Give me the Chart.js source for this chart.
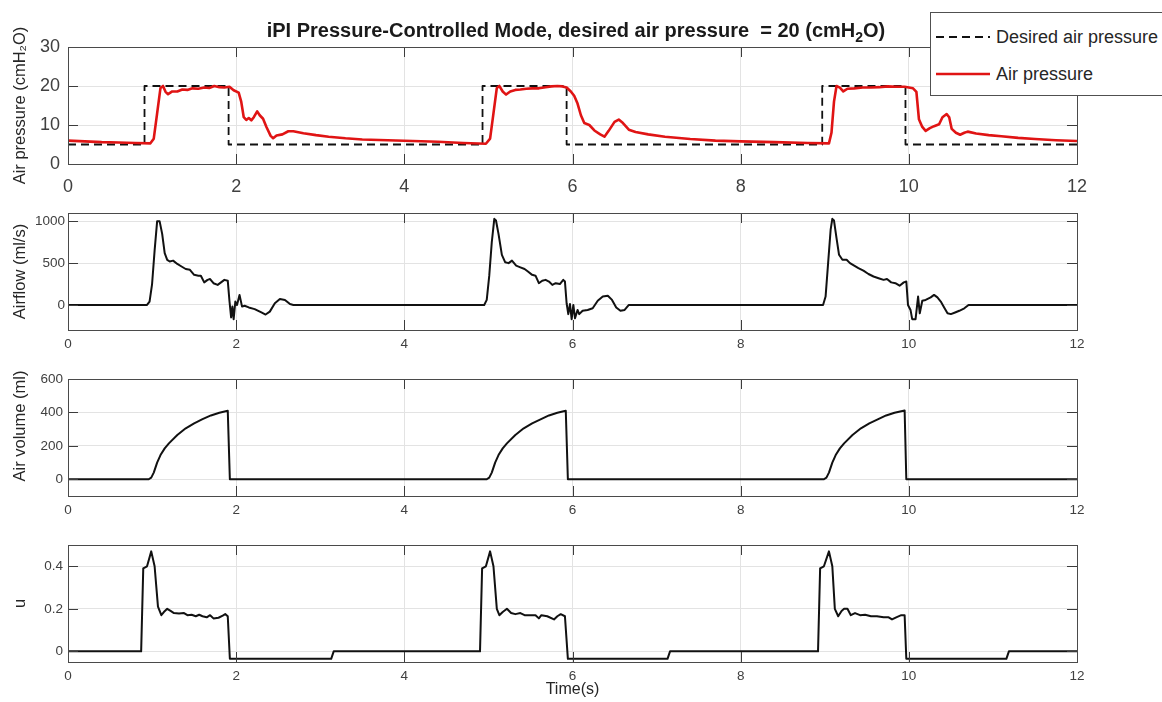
<!DOCTYPE html>
<html>
<head>
<meta charset="utf-8">
<script src="https://cdn.jsdelivr.net/npm/chart.js@4.4.1/dist/chart.umd.min.js"></script>
<style>
html,body{margin:0;padding:0;background:#fff;width:1162px;height:702px;overflow:hidden;}
body{position:relative;font-family:"Liberation Sans",Arial,sans-serif;}
canvas{position:absolute;left:0;}
#title{position:absolute;left:0;width:1152px;top:20px;text-align:center;font-weight:bold;font-size:20px;line-height:20px;color:#1a1a1a;white-space:pre;z-index:5;}
#title sub{font-size:0.7em;vertical-align:baseline;position:relative;top:0.35em;}
#legend{position:absolute;left:930px;top:12px;width:260px;height:84px;border:1px solid #505050;background:#fff;box-sizing:border-box;z-index:6;}
#legend .item{position:absolute;left:0;height:24px;width:258px;}
#legend svg{position:absolute;left:4px;top:0;}
#legend span{position:absolute;left:65px;top:1px;font-size:18px;line-height:22px;color:#262626;white-space:nowrap;}
</style>
</head>
<body>
<div id="title">iPI Pressure-Controlled Mode, desired air pressure  = 20 (cmH<sub>2</sub>O)</div>
<div id="legend"></div>
<canvas id="c1" width="1162" height="200" style="top:0px"></canvas>
<canvas id="c2" width="1162" height="167" style="top:199px"></canvas>
<canvas id="c3" width="1162" height="167" style="top:365px"></canvas>
<canvas id="c4" width="1162" height="171" style="top:531px"></canvas>
<script>
// ---------- tick labels ----------
const timeTicks = [0, 2, 4, 6, 8, 10, 12];
const pressureTicks = [0, 10, 20, 30];
const airflowTicks = [0, 500, 1000];
const volumeTicks = [0, 200, 400, 600];
const uTicks = [0, 0.2, 0.4];

// ---------- desired air pressure (step) ----------
const desiredTime = [0, 0.91, 1.91, 4.93, 5.93, 8.97, 9.96, 12];
const desiredPressure = [5, 20, 5, 20, 5, 20, 5, 5];

// ---------- measured air pressure ----------
const pressureTime = [0,0.2,0.4,0.6,0.8,0.98,1.02,1.06,1.10,1.13,1.16,1.19,1.24,1.30,1.36,1.42,1.48,1.55,1.62,1.68,1.74,1.80,1.86,1.92,1.97,2.03,2.06,2.09,2.12,2.15,2.18,2.21,2.25,2.28,2.32,2.36,2.41,2.44,2.48,2.55,2.62,2.68,2.80,2.95,3.10,3.30,3.50,3.80,4.10,4.40,4.70,4.97,
 5.02,5.06,5.10,5.13,5.17,5.21,5.26,5.32,5.38,5.45,5.52,5.60,5.68,5.75,5.82,5.88,5.93,5.98,6.02,6.06,6.10,6.14,6.20,6.26,6.33,6.38,6.43,6.50,6.55,6.60,6.67,6.75,6.90,7.10,7.40,7.70,8.00,8.40,8.80,9.05,
 9.08,9.11,9.14,9.18,9.22,9.27,9.35,9.45,9.55,9.65,9.75,9.85,9.95,10.05,10.09,10.12,10.16,10.20,10.25,10.30,10.36,10.40,10.45,10.48,10.51,10.56,10.61,10.66,10.70,10.80,10.95,11.10,11.30,11.50,11.75,12.0];
const pressure = [6.0,5.8,5.6,5.5,5.4,5.3,6.5,13,19.5,20,18.5,17.9,18.6,18.6,19.1,19.0,19.4,19.3,19.6,19.5,20.0,19.7,19.6,19.8,18.9,18.3,16,12,11.3,11.8,11.2,12.0,13.5,12.5,11.6,9.5,7.2,6.6,7.3,7.6,8.4,8.4,7.9,7.4,7.0,6.6,6.3,6.1,5.9,5.7,5.4,5.2,
 6.5,13,19.5,20,18.6,17.8,18.6,19.0,19.1,19.3,19.4,19.4,19.7,19.9,20.0,19.9,19.6,18.6,17.5,15.5,12.5,10.5,10.0,8.6,7.6,7.0,8.5,10.8,11.4,10.5,8.8,8.2,7.6,7.0,6.4,6.0,5.8,5.6,5.4,5.3,
 8,16,20,19.6,18.6,19.3,19.4,19.6,19.6,19.7,19.9,19.8,19.8,19.4,18.5,11.5,9.5,8.5,9.2,9.7,10.2,12.0,12.8,12.0,9.0,8.0,7.5,8.0,8.3,7.8,7.4,7.1,6.7,6.4,6.1,5.9];

// ---------- airflow ----------
const airflowTime = [0,0.5,0.94,0.97,1.00,1.03,1.06,1.09,1.12,1.15,1.18,1.21,1.25,1.30,1.35,1.40,1.45,1.50,1.55,1.58,1.62,1.66,1.69,1.73,1.78,1.82,1.86,1.90,1.92,1.94,1.955,1.97,1.99,2.01,2.04,2.07,2.10,2.15,2.22,2.30,2.35,2.40,2.46,2.52,2.58,2.64,2.68,3.5,4.95,
 4.98,5.01,5.04,5.07,5.09,5.12,5.16,5.20,5.24,5.28,5.33,5.38,5.43,5.47,5.52,5.56,5.60,5.64,5.68,5.72,5.76,5.80,5.85,5.89,5.91,5.93,5.95,5.97,5.99,6.01,6.03,6.06,6.08,6.12,6.18,6.24,6.30,6.36,6.42,6.47,6.52,6.57,6.62,6.67,7.5,8.98,
 9.01,9.04,9.07,9.09,9.11,9.14,9.17,9.21,9.26,9.30,9.35,9.40,9.46,9.52,9.58,9.64,9.70,9.74,9.79,9.84,9.89,9.94,9.97,9.99,10.02,10.04,10.08,10.11,10.13,10.16,10.20,10.26,10.30,10.34,10.38,10.42,10.46,10.50,10.55,10.60,10.66,10.71,11.5,12];
const airflow = [0,0,0,40,250,650,1000,1000,850,620,540,520,530,490,460,430,420,360,350,350,270,300,310,260,240,270,300,290,50,-150,-20,-170,40,0,120,-20,-10,-30,-50,-90,-115,-80,20,70,60,10,0,0,0,
 60,350,750,1030,1010,850,600,510,500,530,470,450,430,400,360,350,260,290,300,280,240,260,250,300,280,20,-110,10,-170,0,-160,-60,-110,-70,-60,-40,50,100,110,60,-30,-70,-60,0,0,0,
 100,500,900,1030,1010,800,600,540,540,500,470,440,410,370,340,320,300,310,270,260,230,270,280,0,-60,-170,-170,100,-100,50,60,90,120,90,40,-30,-100,-110,-90,-70,-40,0,0,0];

// ---------- air volume ----------
const volumeTime = [0,0.96,0.99,1.02,1.06,1.10,1.15,1.20,1.30,1.40,1.50,1.60,1.70,1.80,1.90,1.925,
 4.98,5.01,5.04,5.08,5.12,5.17,5.22,5.32,5.42,5.52,5.62,5.72,5.82,5.92,5.945,
 8.99,9.02,9.05,9.09,9.13,9.18,9.23,9.33,9.43,9.53,9.63,9.73,9.83,9.95,9.97,12];
const volume = [0,0,10,40,100,145,185,215,265,305,335,360,382,398,410,0,
 0,10,40,100,145,185,215,265,305,335,358,382,398,410,0,
 0,10,40,100,145,185,215,265,305,335,358,382,398,412,0,0];

// ---------- control signal u ----------
const uTime = [0,0.87,0.895,0.94,0.99,1.03,1.07,1.11,1.14,1.18,1.22,1.26,1.32,1.38,1.42,1.47,1.52,1.56,1.60,1.65,1.69,1.73,1.79,1.84,1.87,1.90,1.925,3.13,3.16,
 4.90,4.925,4.97,5.02,5.06,5.10,5.13,5.17,5.22,5.27,5.32,5.38,5.43,5.50,5.56,5.60,5.63,5.70,5.78,5.82,5.86,5.91,5.945,7.13,7.16,
 8.92,8.945,8.99,9.05,9.09,9.12,9.16,9.20,9.23,9.27,9.31,9.36,9.42,9.48,9.55,9.62,9.70,9.76,9.80,9.85,9.91,9.95,9.97,11.16,11.19,12];
const uValues = [0,0,0.39,0.40,0.47,0.40,0.21,0.17,0.185,0.20,0.19,0.18,0.178,0.18,0.17,0.172,0.165,0.172,0.165,0.16,0.17,0.155,0.158,0.168,0.175,0.165,-0.035,-0.035,0,
 0,0.39,0.40,0.47,0.40,0.20,0.17,0.185,0.20,0.18,0.175,0.18,0.17,0.17,0.17,0.155,0.17,0.165,0.15,0.165,0.175,0.165,-0.035,-0.035,0,
 0,0.39,0.40,0.47,0.40,0.20,0.165,0.19,0.20,0.20,0.17,0.18,0.17,0.172,0.165,0.165,0.16,0.16,0.15,0.16,0.17,0.17,-0.035,-0.035,0,0];

// ---------- helpers ----------
const FONT = '"Liberation Sans", Arial, sans-serif';
const pts = (xs, ys) => xs.map((x, i) => ({x: x, y: ys[i]}));

const boxTicks = {
  id: 'boxTicks',
  afterDatasetsDraw(chart, args, o) {
    const {ctx, chartArea: a, scales: {x, y}} = chart;
    const L = o.len || 10;
    ctx.save();
    ctx.strokeStyle = '#3c3c3c';
    ctx.lineWidth = 1;
    ctx.beginPath();
    x.ticks.forEach(t => {
      const px = Math.round(x.getPixelForValue(t.value)) + 0.5;
      ctx.moveTo(px, a.bottom); ctx.lineTo(px, a.bottom - L);
      ctx.moveTo(px, a.top); ctx.lineTo(px, a.top + L);
    });
    y.ticks.forEach(t => {
      const py = Math.round(y.getPixelForValue(t.value)) + 0.5;
      ctx.moveTo(a.left, py); ctx.lineTo(a.left + L, py);
      ctx.moveTo(a.right, py); ctx.lineTo(a.right - L, py);
    });
    ctx.stroke();
    ctx.strokeStyle = '#4a4a4a';
    ctx.strokeRect(Math.round(a.left) + 0.5, Math.round(a.top) + 0.5,
                   Math.round(a.right - a.left), Math.round(a.bottom - a.top));
    ctx.restore();
  }
};

function makePanel(id, cfg) {
  const xScale = {
    type: 'linear', min: 0, max: 12,
    afterBuildTicks: s => { s.ticks = timeTicks.map(v => ({value: v})); },
    afterFit: s => { s.height = cfg.xHeight; },
    grid: {color: '#e3e3e3', drawTicks: false, lineWidth: 1},
    border: {display: false},
    ticks: {font: {family: FONT, size: cfg.tickSize}, color: '#404040', padding: cfg.xPad,
            maxRotation: 0, autoSkip: false, callback: v => String(v)},
    title: cfg.xTitle ? {display: true, text: cfg.xTitle, color: '#262626',
            font: {family: FONT, size: 16}, padding: {top: 0, bottom: 3}} : {display: false}
  };
  const yScale = {
    type: 'linear', min: cfg.yMin, max: cfg.yMax,
    afterBuildTicks: s => { s.ticks = cfg.yTicks.map(v => ({value: v})); },
    afterFit: s => { s.width = 68; },
    grid: {color: '#e3e3e3', drawTicks: false, lineWidth: 1},
    border: {display: false},
    ticks: {font: {family: FONT, size: cfg.tickSize}, color: '#404040', padding: cfg.yPad,
            autoSkip: false, callback: v => String(v)},
    title: {display: true, text: cfg.yTitle, color: '#262626',
            font: {family: FONT, size: cfg.yTitleSize}, padding: {top: 11, bottom: 0}}
  };
  return new Chart(document.getElementById(id), {
    type: 'line',
    data: {datasets: cfg.datasets},
    options: {
      responsive: false, animation: false, devicePixelRatio: 1,
      layout: {padding: {top: cfg.padTop, right: 85, left: 0, bottom: 0}},
      elements: {point: {radius: 0, hoverRadius: 0}, line: {tension: 0, borderJoinStyle: 'round', borderCapStyle: 'butt'}},
      plugins: {legend: {display: false}, tooltip: {enabled: false}, title: {display: false}, boxTicks: {len: 10}},
      events: [],
      scales: {x: xScale, y: yScale}
    },
    plugins: [boxTicks]
  });
}

const chart1 = makePanel('c1', {
  padTop: 47, xHeight: 36, tickSize: 18, xPad: 12, yPad: 8,
  yMin: 0, yMax: 30, yTicks: pressureTicks, yTitle: 'Air pressure (cmH\u2082O)', yTitleSize: 16.5,
  datasets: [
    {label: 'Desired air pressure', data: pts(desiredTime, desiredPressure), stepped: 'before',
     borderColor: '#111111', borderWidth: 1.8, borderDash: [8, 5], fill: false, order: 2},
    {label: 'Air pressure', data: pts(pressureTime, pressure),
     borderColor: '#e01414', borderWidth: 2.6, fill: false, order: 1}
  ]
});

makePanel('c2', {
  padTop: 14, xHeight: 36, tickSize: 13.5, xPad: 6, yPad: 3,
  yMin: -300, yMax: 1100, yTicks: airflowTicks, yTitle: 'Airflow (ml/s)', yTitleSize: 16.5,
  datasets: [{label: 'Airflow', data: pts(airflowTime, airflow), borderColor: '#111111', borderWidth: 2, fill: false}]
});

makePanel('c3', {
  padTop: 14, xHeight: 36, tickSize: 13.5, xPad: 6, yPad: 5,
  yMin: -100, yMax: 600, yTicks: volumeTicks, yTitle: '     Air volume (ml)', yTitleSize: 16.5,
  datasets: [{label: 'Air volume', data: pts(volumeTime, volume), borderColor: '#111111', borderWidth: 2, fill: false}]
});

makePanel('c4', {
  padTop: 14, xHeight: 40, tickSize: 13.5, xPad: 6, yPad: 5,
  yMin: -0.05, yMax: 0.5, yTicks: uTicks, yTitle: 'u', yTitleSize: 16.5, xTitle: 'Time(s)',
  datasets: [{label: 'u', data: pts(uTime, uValues), borderColor: '#111111', borderWidth: 2, fill: false}]
});

// ---------- HTML legend built from chart 1 datasets ----------
(function buildLegend() {
  const box = document.getElementById('legend');
  const rowsY = [12, 49];
  chart1.data.datasets.forEach((ds, i) => {
    const item = document.createElement('div');
    item.className = 'item';
    item.style.top = rowsY[i] + 'px';
    const dash = ds.borderDash ? ds.borderDash.join(' ') : '';
    item.innerHTML = '<svg width="56" height="24"><line x1="1" y1="12" x2="55" y2="12" stroke="' + ds.borderColor +
      '" stroke-width="' + ds.borderWidth + '"' + (dash ? ' stroke-dasharray="' + dash + '"' : '') + '/></svg>' +
      '<span>' + ds.label + '</span>';
    box.appendChild(item);
  });
})();
</script>
</body>
</html>
